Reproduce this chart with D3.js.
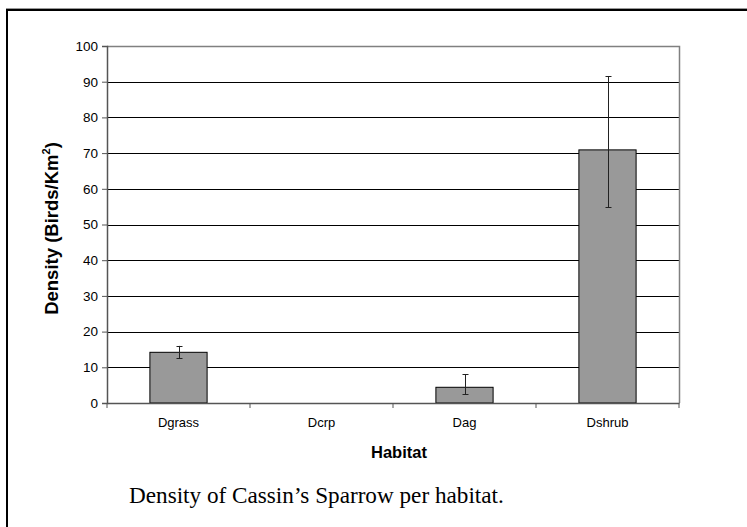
<!DOCTYPE html>
<html><head><meta charset="utf-8">
<script src="https://cdn.jsdelivr.net/npm/d3@7"></script>
<style>body{margin:0;background:#fff}svg{display:block}</style>
</head><body>
<script>
const categories = ["Dgrass","Dcrp","Dag","Dshrub"];
const density = [14.2, 0, 4.4, 70.9];
const errLow = [12.5, null, 2.4, 54.9];
const errHigh = [16.0, null, 8.0, 91.6];
const yTicks = [0,10,20,30,40,50,60,70,80,90,100];

const W=747,H=527;
const SANS="'Liberation Sans', Arial, sans-serif";
const svg=d3.select("body").append("svg").attr("width",W).attr("height",H);
svg.append("rect").attr("width",W).attr("height",H).attr("fill","#fff");

// outer frame (top and left)
svg.append("line").attr("x1",6).attr("x2",W).attr("y1",8.5).attr("y2",8.5).attr("stroke","#999").attr("stroke-width",1);
svg.append("line").attr("x1",6).attr("x2",W).attr("y1",10).attr("y2",10).attr("stroke","#000").attr("stroke-width",2);
svg.append("line").attr("x1",7).attr("x2",7).attr("y1",9).attr("y2",H).attr("stroke","#000").attr("stroke-width",2);

const L=107,R=679,T=46,B=403;
const x=d3.scaleBand().domain(categories).range([L,R]).paddingInner(0).paddingOuter(0);
const y=d3.scaleLinear().domain([0,100]).range([B,T]);
const barW=x.bandwidth()*0.4;

// gridlines
svg.append("g").selectAll("line").data(yTicks.filter(d=>d>0&&d<100)).join("line")
  .attr("x1",L).attr("x2",R).attr("y1",d=>Math.round(y(d))+0.5).attr("y2",d=>Math.round(y(d))+0.5)
  .attr("stroke","#000").attr("stroke-width",1);
// plot border top/right
svg.append("path").attr("d",`M${L},${Math.round(T)+0.5}H${R+0.5}V${B}`).attr("fill","none").attr("stroke","#808080").attr("stroke-width",1.5);

// bars
svg.append("g").selectAll("rect").data(categories).join("rect")
  .attr("x",(d)=>x(d)+x.bandwidth()/2-barW/2)
  .attr("width",barW)
  .attr("y",(d,i)=>y(density[i]))
  .attr("height",(d,i)=>y(0)-y(density[i]))
  .attr("fill","#999999").attr("stroke","#000").attr("stroke-width",1)
  .style("display",(d,i)=>density[i]>0?null:"none");

// error bars
const eg=svg.append("g").attr("stroke","#222").attr("stroke-width",1);
categories.forEach((c,i)=>{
  if(errLow[i]==null) return;
  const cx=Math.round(x(c)+x.bandwidth()/2)+0.5;
  eg.append("line").attr("x1",cx).attr("x2",cx).attr("y1",y(errLow[i])).attr("y2",y(errHigh[i]));
  [errLow[i],errHigh[i]].forEach(v=>{
    eg.append("line").attr("x1",cx-3).attr("x2",cx+3).attr("y1",Math.round(y(v))+0.5).attr("y2",Math.round(y(v))+0.5);
  });
});

// y axis
const yAxis=svg.append("g").attr("transform",`translate(${L},0)`)
  .call(d3.axisLeft(y).tickValues(yTicks).tickSize(5).tickPadding(4));
yAxis.select(".domain").attr("stroke","#555").attr("stroke-width",1.5);
yAxis.selectAll(".tick line").attr("stroke","#555");
yAxis.selectAll("text").attr("font-family",SANS).attr("font-size",13.5).attr("fill","#000");

// x axis
const xAxis=svg.append("g").attr("transform",`translate(0,${B})`)
  .call(d3.axisBottom(x).tickSize(0).tickPadding(15));
xAxis.select(".domain").attr("stroke","#555").attr("stroke-width",1.5);
xAxis.selectAll("text").attr("font-family",SANS).attr("font-size",13).attr("fill","#000");
// category boundary ticks
svg.append("g").selectAll("line").data(categories.concat(["_end"])).join("line")
  .attr("x1",(d,i)=>i<categories.length?x(d):R).attr("x2",(d,i)=>i<categories.length?x(d):R)
  .attr("y1",B).attr("y2",B+5).attr("stroke","#555").attr("stroke-width",1);

// axis titles
const yt=svg.append("text").attr("transform",`translate(58,${(T+B)/2+4}) rotate(-90)`)
  .attr("text-anchor","middle").attr("font-family",SANS)
  .attr("font-size",18.5).attr("font-weight","bold");
yt.append("tspan").text("Density (Birds/Km");
yt.append("tspan").attr("dy",-8).attr("font-size",11).text("2");
yt.append("tspan").attr("dy",8).text(")");

svg.append("text").attr("x",(L+R)/2+6).attr("y",458).attr("text-anchor","middle")
  .attr("font-family",SANS).attr("font-size",16.5).attr("font-weight","bold").text("Habitat");

svg.append("text").attr("x",129).attr("y",503)
  .attr("font-family","'Liberation Serif', 'Times New Roman', serif").attr("font-size",23.2).text("Density of Cassin’s Sparrow per habitat.");
</script>
</body></html>
